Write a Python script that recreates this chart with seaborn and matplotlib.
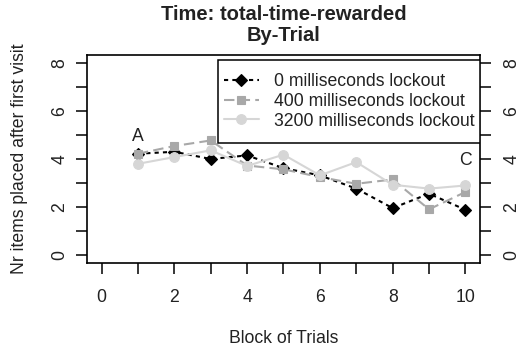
import matplotlib
matplotlib.use("Agg")
import matplotlib.pyplot as plt
import matplotlib.transforms as mtrans
from matplotlib.patches import Rectangle
import seaborn as sns
import pandas as pd

blocks = [1, 2, 3, 4, 5, 6, 7, 8, 9, 10]
lock_0 = [4.22, 4.30, 4.00, 4.15, 3.62, 3.32, 2.77, 1.96, 2.56, 1.89]
lock_400 = [4.22, 4.54, 4.77, 3.73, 3.57, 3.25, 2.97, 3.15, 1.91, 2.63]
lock_3200 = [3.80, 4.08, 4.36, 3.71, 4.18, 3.32, 3.87, 2.93, 2.77, 2.90]
series_names = ["0 milliseconds lockout", "400 milliseconds lockout", "3200 milliseconds lockout"]
x_ticks = list(range(0, 11))
x_labels = ["0", "", "2", "", "4", "", "6", "", "8", "", "10"]
y_ticks = list(range(0, 9))
y_labels = ["0", "", "2", "", "4", "", "6", "", "8"]

sns.set_style("ticks")
plt.rcParams['font.family'] = ['Liberation Sans', 'DejaVu Sans']

FS = 12.7
TXT = "#222222"

fig = plt.figure(figsize=(5.2, 3.53), dpi=100)
ax = fig.add_axes([87/520, 1-263/353, (480-87)/520, (263-55)/353])

styles = [
    dict(color="black", marker="D", markersize=6.2, linestyle=(0, (2, 2)), mfc="black", mec="black"),
    dict(color="#a8a8a8", marker="s", markersize=6, linestyle=(0, (5, 2.5)), mfc="#a8a8a8", mec="#a8a8a8"),
    dict(color="#d6d6d6", marker="o", markersize=7, linestyle="-", mfc="#d6d6d6", mec="#d6d6d6"),
]
values = [lock_0, lock_400, lock_3200]

for vals, name, st in zip(values, series_names, styles):
    df = pd.DataFrame({"block": blocks, "value": vals})
    sns.lineplot(data=df, x="block", y="value", ax=ax, color=st["color"],
                 marker=st["marker"], markersize=st["markersize"],
                 linestyle=st["linestyle"], markerfacecolor=st["mfc"],
                 markeredgecolor=st["mec"], markeredgewidth=0.8,
                 linewidth=1.5, label=name)

ax.set_xlim(-0.4, 10.4)
ax.set_ylim(-0.32, 8.32)
ax.set_xticks(x_ticks)
ax.set_xticklabels(x_labels)
ax.set_yticks(y_ticks)
ax.set_yticklabels(y_labels)

for sp in ax.spines.values():
    sp.set_visible(True)
    sp.set_color("black")
    sp.set_linewidth(1.2)

ax.tick_params(axis="both", direction="out", length=8, width=1.1, color="black",
               labelsize=FS, labelcolor=TXT)
ax.tick_params(axis="x", pad=11)
ax.tick_params(axis="y", right=True, labelright=True, labelrotation=90, pad=9)
shift = mtrans.ScaledTranslation(5/100, 0, fig.dpi_scale_trans)
for tk in ax.yaxis.get_major_ticks():
    tk.label1.set_va("center")
    tk.label1.set_ha("right")
    tk.label1.set_transform(tk.label1.get_transform() + shift)
    tk.label2.set_va("center")
    tk.label2.set_ha("left")

ax.set_xlabel("Block of Trials", fontsize=FS, color=TXT, labelpad=17)
ax.set_ylabel("Nr items placed after first visit", fontsize=FS, color=TXT, labelpad=17)
ax.set_title("Time: total-time-rewarded\nBy-Trial", fontsize=14.5, fontweight="bold",
             color=TXT, pad=10, linespacing=1.15)

ax.text(1, 4.95, "A", ha="center", va="center", fontsize=FS, color=TXT)
ax.text(10, 3.95, "C", ha="center", va="center", fontsize=FS, color=TXT)

# legend box (R-style: tight rows, generous vertical padding)
bx0, bx1 = (218-87)/393, 1.0
by0, by1 = (263-143)/208, (263-60)/208
ax.add_patch(Rectangle((bx0, by0), bx1-bx0, by1-by0, transform=ax.transAxes,
                       facecolor="white", edgecolor="black", linewidth=1.1, zorder=4))
leg = ax.legend(loc="center", bbox_to_anchor=(bx0, by0, bx1-bx0, by1-by0),
                bbox_transform=ax.transAxes, frameon=False,
                fontsize=FS, handlelength=2.0, handletextpad=0.85,
                labelspacing=0.15, borderpad=0.1)
leg.set_zorder(5)
for t in leg.get_texts():
    t.set_color(TXT)

fig.savefig("out.png", dpi=100)
